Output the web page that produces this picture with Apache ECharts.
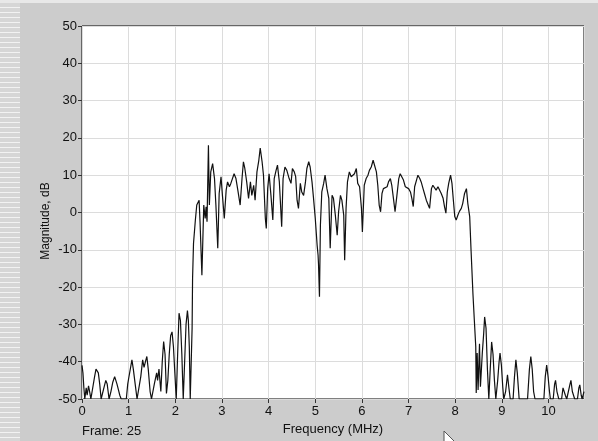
<!DOCTYPE html>
<html>
<head>
<meta charset="utf-8">
<script src="https://cdn.jsdelivr.net/npm/echarts@6/dist/echarts.min.js"></script>
<style>
  html, body { margin: 0; padding: 0; background: #cccccc; }
  #chart { width: 598px; height: 441px; }
</style>
</head>
<body>
<div id="chart"></div>
<script>
// Spectrum trace, [frequency MHz, magnitude dB]
const stopbandLow = [
  [0.00,-41],[0.02,-43],[0.04,-47],[0.06,-50],[0.09,-47],[0.11,-49],[0.14,-46.5],[0.17,-48.5],
  [0.19,-50],[0.23,-50],[0.27,-44],[0.30,-42],[0.32,-41.5],[0.35,-43],[0.38,-46],[0.41,-50],
  [0.45,-50],[0.48,-46.5],[0.51,-45],[0.54,-46],[0.56,-48],[0.58,-50],[0.62,-48],[0.66,-45.5],
  [0.70,-44],[0.72,-43.5],[0.75,-46],[0.78,-47.5],[0.81,-49],[0.84,-50],[0.95,-50],[0.98,-46],
  [1.00,-44.5],[1.03,-44],[1.07,-39.5],[1.10,-42],[1.14,-46],[1.18,-50],[1.22,-50],[1.26,-44],
  [1.30,-39.5],[1.33,-41.5],[1.36,-40],[1.39,-38.6],[1.42,-42],[1.46,-48],[1.49,-50],[1.52,-50],
  [1.55,-46],[1.60,-43],[1.62,-45],[1.65,-42],[1.69,-48],[1.72,-40],[1.75,-34.6],[1.78,-38],
  [1.81,-48.5],[1.84,-45],[1.87,-38],[1.90,-33],[1.93,-32],[1.96,-36],[1.99,-43],[2.02,-50],
  [2.05,-38],[2.08,-27],[2.11,-29],[2.14,-38],[2.17,-50],[2.20,-40],[2.23,-30],[2.26,-26.3],
  [2.28,-29],[2.30,-36],[2.32,-50],[2.34,-50]
];

const passband = [
  [2.36,-31],[2.37,-17.7],[2.39,-8.3],[2.43,-2],[2.46,2],[2.51,3.3],[2.53,-2.5],[2.57,-16.8],
  [2.61,2],[2.64,-1.6],[2.66,1.5],[2.68,-2.5],[2.71,18],[2.73,2],[2.76,10.9],[2.80,13.1],
  [2.84,9.1],[2.87,2],[2.91,-9.6],[2.94,5.1],[2.98,9.6],[3.01,4.6],[3.05,-1.6],[3.09,6],
  [3.12,8.2],[3.16,6.9],[3.19,7.8],[3.23,7.3],[3.26,10.4],[3.30,9.1],[3.34,6],[3.39,2],
  [3.43,9.1],[3.46,13.6],[3.49,11.8],[3.53,8.2],[3.57,3.8],[3.61,8.2],[3.64,4.6],[3.68,7.3],
  [3.71,3.3],[3.75,10.9],[3.79,14],[3.82,17.3],[3.86,13.6],[3.89,10],[3.93,-1.6],[3.95,-4.3],
  [3.98,6.4],[4.01,10.4],[4.05,4.6],[4.09,-2],[4.12,9.1],[4.16,11.3],[4.19,12.7],[4.23,8.2],
  [4.28,-3.8],[4.31,9.1],[4.35,12.2],[4.39,11.3],[4.44,9.1],[4.48,7.8],[4.51,11.8],[4.55,10.9],
  [4.58,9.6],[4.61,3.3],[4.64,1.1],[4.68,7.8],[4.71,5.5],[4.75,4.6],[4.79,8.2],[4.82,11.8],
  [4.86,13.6],[4.89,12.2],[4.93,8.2],[4.96,4.2],[5.00,-1.6],[5.04,-8.8],[5.06,-11.4],[5.07,-14],
  [5.09,-22.6],[5.11,-3.4],[5.14,5.5],[5.18,7.8],[5.21,10],[5.25,6.4],[5.29,3.8],[5.32,-9.6],
  [5.36,4.6],[5.39,3.8],[5.43,-0.7],[5.45,-3.4],[5.47,-6.1],[5.50,0.2],[5.54,4.6],[5.57,3.3],
  [5.61,-0.7],[5.63,-12.8],[5.66,1.1],[5.69,8.2],[5.73,10.9],[5.77,9.6],[5.81,9.1],[5.84,10.4],
  [5.88,11.8],[5.91,7.8],[5.95,6.9],[5.99,1.1],[6.01,-5.2],[6.05,7.3],[6.09,9.1],[6.13,10],
  [6.16,11.3],[6.20,12.2],[6.24,14],[6.27,13.6],[6.31,10.9],[6.34,7.3],[6.37,2],[6.40,0.2],
  [6.43,5.1],[6.46,6.4],[6.50,6],[6.54,6.9],[6.57,8.2],[6.61,9.1],[6.64,7.3],[6.68,3.3],
  [6.71,0.2],[6.75,4.6],[6.79,9.1],[6.82,10.4],[6.86,10],[6.89,8.7],[6.93,6.9],[6.96,6.4],
  [7.00,6.4],[7.04,5.5],[7.07,3.8],[7.10,1.6],[7.13,6.9],[7.17,8.7],[7.20,10],[7.24,9.1],
  [7.27,8.2],[7.31,6.4],[7.34,5.1],[7.38,3.3],[7.42,2.9],[7.45,1.1],[7.49,6.4],[7.52,7.3],
  [7.56,6.9],[7.59,6],[7.63,6.9],[7.67,6.4],[7.70,5.1],[7.74,3.8],[7.77,1.6],[7.80,-0.2],
  [7.83,5.5],[7.86,7.8],[7.90,10],[7.93,7.8],[7.96,3.3],[7.99,-1.1],[8.02,-2],[8.06,-0.6],
  [8.09,0.3],[8.13,1.1],[8.16,2.4],[8.20,5.1],[8.24,6.4],[8.27,2.4],[8.31,-1.1]
];

const stopbandHigh = [
  [8.34,-10.4],[8.38,-21.9],[8.41,-29],[8.44,-36],[8.45,-48.4],[8.47,-37.7],[8.49,-47.6],[8.52,-35.2],
  [8.54,-46.7],[8.58,-37.7],[8.61,-32.4],[8.63,-28],[8.66,-31],[8.69,-42],[8.72,-50],[8.75,-42],
  [8.78,-34.7],[8.81,-38],[8.84,-45],[8.87,-50],[8.91,-45],[8.94,-40],[8.96,-37.7],[8.99,-41],
  [9.02,-47],[9.04,-50],[9.08,-48],[9.12,-43.5],[9.15,-47],[9.18,-50],[9.24,-50],[9.27,-44],
  [9.30,-39.5],[9.33,-43],[9.37,-50],[9.55,-50],[9.59,-42],[9.62,-38.6],[9.65,-42],[9.68,-48],
  [9.71,-50],[9.90,-50],[9.93,-44],[9.96,-40.9],[9.99,-44],[10.02,-48],[10.04,-50],[10.10,-50],
  [10.13,-46],[10.15,-45],[10.18,-48],[10.22,-50],[10.28,-50],[10.31,-47],[10.33,-46.7],[10.36,-49],
  [10.39,-50],[10.43,-50],[10.46,-46],[10.48,-45],[10.51,-48],[10.56,-50],[10.62,-50],[10.65,-47],
  [10.67,-46.2],[10.70,-49],[10.72,-50],[10.76,-48]
];

const freqMax = 10.76;
const frameLabel = 'Frame: 25';
const xTitle = 'Frequency (MHz)';
const yTitle = 'Magnitude, dB';

const FONT = 'Liberation Sans, Arial, sans-serif';

// Striped strip down the left edge of the window
const stripes = [];
for (let y = 2; y < 441; y += 5) {
  stripes.push({
    type: 'rect',
    shape: { x: 0, y: y, width: 20, height: 1 },
    style: { fill: '#f2f2f2' },
    silent: true
  });
}

const chart = echarts.init(document.getElementById('chart'), null, { renderer: 'canvas' });

chart.setOption({
  animation: false,
  backgroundColor: '#cccccc',
  grid: {
    left: 82, top: 26, right: 14, bottom: 39,
    show: true,
    backgroundColor: '#ffffff',
    borderColor: '#000000',
    borderWidth: 1
  },
  xAxis: {
    type: 'value',
    min: 0,
    max: freqMax,
    interval: 1,
    name: xTitle,
    nameLocation: 'middle',
    nameGap: 24,
    nameTextStyle: { color: '#111', fontSize: 13, fontFamily: FONT },
    axisLine: { show: false, onZero: false },
    axisTick: { show: true, inside: false, length: 4, lineStyle: { color: '#333' } },
    axisLabel: {
      color: '#111', fontSize: 13, fontFamily: FONT, margin: 6,
      showMaxLabel: false,
      formatter: v => (Math.abs(v - Math.round(v)) < 1e-6 ? String(Math.round(v)) : '')
    },
    splitLine: { show: true, lineStyle: { color: '#dcdcdc', width: 1 } }
  },
  yAxis: {
    type: 'value',
    min: -50,
    max: 50,
    interval: 10,
    axisLine: { show: false, onZero: false },
    axisTick: { show: true, inside: false, length: 4, lineStyle: { color: '#333' } },
    axisLabel: { color: '#111', fontSize: 13, fontFamily: FONT, margin: 5 },
    splitLine: { show: true, lineStyle: { color: '#dcdcdc', width: 1 } }
  },
  graphic: [
    { type: 'rect', shape: { x: 0, y: 0, width: 20, height: 441 }, style: { fill: '#d6d6d6' }, silent: true },
    { type: 'group', children: stripes },
    { type: 'rect', shape: { x: 0, y: 0, width: 598, height: 3 }, style: { fill: '#e8e8e8' }, silent: true },
    {
      type: 'text', x: 46, y: 221, rotation: Math.PI / 2,
      style: { text: yTitle, fill: '#111', font: '12px ' + FONT, align: 'center', verticalAlign: 'middle' },
      silent: true
    },
    {
      type: 'text', x: 82, y: 431,
      style: { text: frameLabel, fill: '#111', font: '13px ' + FONT, align: 'left', verticalAlign: 'middle' },
      silent: true
    },
    {
      // mouse pointer
      type: 'polygon', x: 444, y: 431,
      shape: { points: [[0,0],[0,16],[4,12],[7,19],[9,18],[6,11],[11,11]] },
      style: { fill: '#ffffff', stroke: '#555555', lineWidth: 1 },
      silent: true
    }
  ],
  series: [{
    type: 'line',
    data: stopbandLow.concat(passband, stopbandHigh),
    showSymbol: false,
    symbol: 'none',
    clip: true,
    lineStyle: { color: '#111111', width: 1.2 }
  }]
});
</script>
</body>
</html>
